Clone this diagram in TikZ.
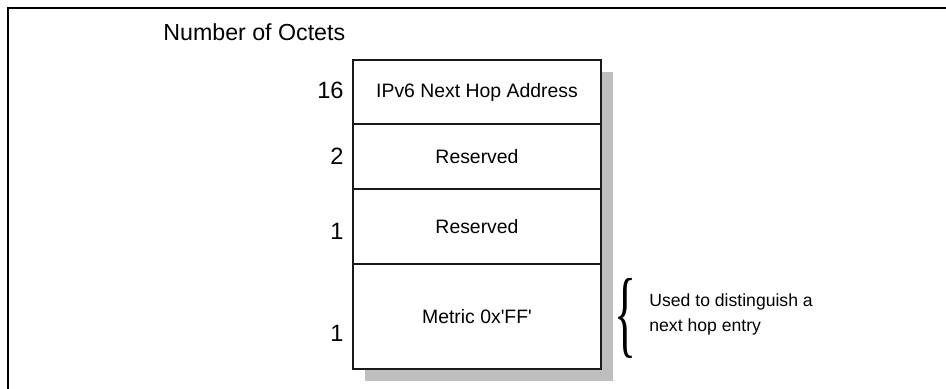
\documentclass[tikz,border=0pt]{standalone}
\usepackage{fontspec}
\setmainfont{Liberation Sans}
\newfontfamily\braceserif{Liberation Serif}
\usetikzlibrary{positioning}
\definecolor{shadowgray}{RGB}{190, 190, 190}
\definecolor{linegray}{RGB}{25, 25, 25}

\begin{document}
\begin{tikzpicture}[x=0.5pt, y=-0.5pt,
    field/.style={draw=linegray, line width=0.6pt, fill=white, minimum width=124pt, inner sep=0pt, font=\fontsize{9.7}{11}\selectfont},
    octets/.style={anchor=base east, inner sep=0pt, font=\fontsize{11.8}{14}\selectfont}]
    \useasboundingbox (0,0) rectangle (946,389);
    % Frame
    \draw[line width=0.75pt] (8,389) -- (8,8) -- (946,8);
    \node[anchor=base west, inner sep=0pt, font=\fontsize{11.6}{14}\selectfont] (title) at (163,41) {Number of Octets};

    % Shadow
    \fill[shadowgray] (365,72) rectangle (613,381);

    % Fields
    \node[field, minimum height=32pt] (addr) at (477,92) {IPv6 Next Hop Address};
    \node[field, minimum height=32.5pt] (res1) at (477,156.5) {Reserved};
    \node[field, minimum height=37.5pt] (res2) at (477,226.5) {Reserved};
    \node[field, minimum height=52.5pt] (metric) at (477,316.5) {Metric 0x\textquotesingle FF\textquotesingle};

    \node[octets] (oaddr) at (344,99) {16};
    \node[octets] (ores1) at (344,165) {2};
    \node[octets] (ores2) at (344,240) {1};
    \node[octets] (ometric) at (344,342) {1};

    % Note
    \node[inner sep=0pt] (brace) at (625,318) {\resizebox*{11pt}{40pt}{\braceserif\{}};
    \node[anchor=west, align=left, inner sep=0pt, font=\fontsize{8.8}{12.5}\selectfont] (note) at (649,314) {Used to distinguish a\\next hop entry};
\end{tikzpicture}
\end{document}
